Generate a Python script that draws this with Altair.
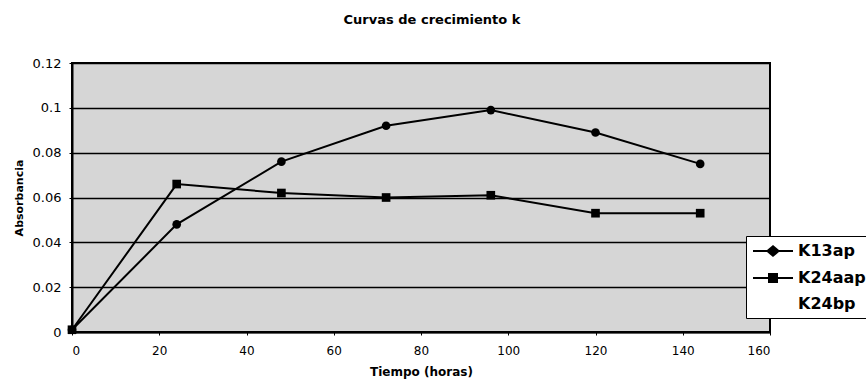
import altair as alt
import pandas as pd

hours = [0, 24, 48, 72, 96, 120, 144]
k13ap = [0.001, 0.048, 0.076, 0.092, 0.099, 0.089, 0.075]
k24aap = [0.001, 0.066, 0.062, 0.060, 0.061, 0.053, 0.053]
series_names = ["K13ap", "K24aap", "K24bp"]
x_ticks = [0, 20, 40, 60, 80, 100, 120, 140, 160]
y_ticks = [0, 0.02, 0.04, 0.06, 0.08, 0.1, 0.12]

rows = []
for h, v in zip(hours, k13ap):
    rows.append({"t": h, "abs": v, "serie": "K13ap"})
for h, v in zip(hours, k24aap):
    rows.append({"t": h, "abs": v, "serie": "K24aap"})
df = pd.DataFrame(rows)

FONT = "DejaVu Sans"

x_enc = alt.X("t:Q", scale=alt.Scale(domain=[0, 160], nice=False),
              axis=alt.Axis(values=x_ticks, title="Tiempo (horas)", grid=False,
                            tickSize=3, labelPadding=10, titlePadding=10,
                            labelFontSize=12, titleFontSize=12,
                            titleFontWeight="bold"))
y_enc = alt.Y("abs:Q", scale=alt.Scale(domain=[0, 0.12], nice=False),
              axis=alt.Axis(values=y_ticks, labelExpr="format(datum.value, '~g')",
                            title="Absorbancia",
                            grid=True, gridColor="black", gridWidth=1.6,
                            gridOpacity=1, tickSize=3, labelPadding=8,
                            titlePadding=8, labelFontSize=13, titleFontSize=11,
                            titleFontWeight="bold"))

leg_shape = (
    "datum.value === 'K13ap' ? "
    "'M-2.5,0H-0.7M0.7,0H2.5M0,-0.6L0.7,0L0,0.6L-0.7,0Z' : "
    "datum.value === 'K24aap' ? "
    "'M-2.5,0H-0.5M0.5,0H2.5M-0.5,-0.5H0.5V0.5H-0.5Z' : 'M0,0'"
)

lines = alt.Chart(df).mark_line(strokeWidth=2).encode(
    x=x_enc, y=y_enc,
    color=alt.Color(
        "serie:N",
        scale=alt.Scale(domain=series_names, range=["black", "black", "black"]),
        legend=alt.Legend(
            title=None, orient="none", legendX=674, legendY=173,
            fillColor="white", strokeColor="black", padding=6,
            labelFont=FONT, labelFontSize=16, labelFontWeight="bold",
            labelColor="black", symbolSize=256, symbolOffset=12,
            labelOffset=16, rowPadding=9,
            symbolType=alt.ExprRef(leg_shape),
            symbolFillColor="black", symbolStrokeColor="black",
            symbolStrokeWidth=2, symbolOpacity=1,
        ),
    ),
)

pts_circle = alt.Chart(df).transform_filter(alt.datum.serie == "K13ap").mark_point(
    filled=True, opacity=1, size=75, color="black", shape="circle"
).encode(x=x_enc, y=y_enc)

pts_square = alt.Chart(df).transform_filter(alt.datum.serie == "K24aap").mark_point(
    filled=True, opacity=1, size=75, color="black", shape="square"
).encode(x=x_enc, y=y_enc)

chart = (
    alt.layer(lines, pts_circle, pts_square)
    .properties(
        width=698, height=269,
        autosize=alt.AutoSizeParams(type="none"),
        padding={"left": 72, "top": 63, "right": 96, "bottom": 48},
        title=alt.TitleParams("Curvas de crecimiento k", font=FONT, fontSize=13,
                              fontWeight="bold", color="black", anchor="middle",
                              dx=11, offset=20, baseline="alphabetic"),
    )
    .configure(font=FONT, background="white")
    .configure_view(fill="#d6d6d6", stroke="black", strokeWidth=2)
    .configure_axis(domainColor="black", domainWidth=2, tickColor="black",
                    labelColor="black", titleColor="black", labelFont=FONT,
                    titleFont=FONT)
)

chart.save("out.html", embed_options={"renderer": "svg", "actions": False})
